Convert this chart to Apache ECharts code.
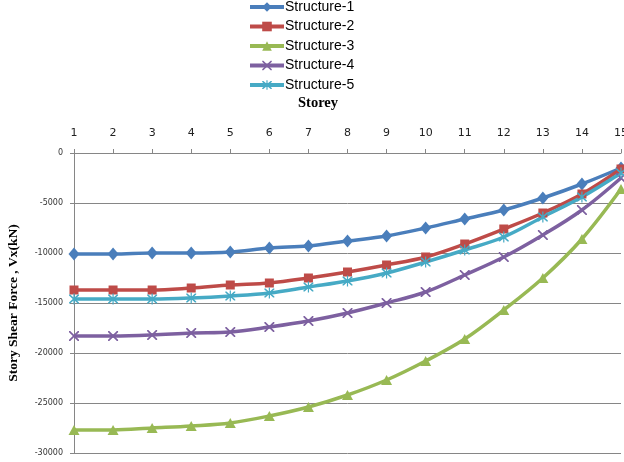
<!DOCTYPE html>
<html>
<head>
<meta charset="utf-8">
<script src="https://cdn.jsdelivr.net/npm/echarts@6/dist/echarts.min.js"></script>
<style>
html,body{margin:0;padding:0;background:#fff;}
#chart{width:624px;height:462px;}
</style>
</head>
<body>
<div id="chart"></div>
<script>
var storeys = ['1','2','3','4','5','6','7','8','9','10','11','12','13','14','15'];
var structure1 = [-10100,-10100,-10000,-10000,-9900,-9500,-9300,-8800,-8300,-7500,-6600,-5700,-4500,-3100,-1500];
var structure2 = [-13700,-13700,-13700,-13500,-13200,-13000,-12500,-11900,-11200,-10400,-9100,-7600,-6000,-4100,-1600];
var structure3 = [-27700,-27700,-27500,-27300,-27000,-26300,-25400,-24200,-22700,-20800,-18600,-15700,-12500,-8600,-3600];
var structure4 = [-18300,-18300,-18200,-18000,-17900,-17400,-16800,-16000,-15000,-13900,-12200,-10400,-8200,-5700,-2500];
var structure5 = [-14600,-14600,-14600,-14500,-14300,-14000,-13400,-12800,-12000,-10900,-9700,-8400,-6400,-4400,-2000];
var seriesNames = ['Structure-1','Structure-2','Structure-3','Structure-4','Structure-5'];
var colors = ['#4A7EBB','#BE4B48','#98B954','#7D60A0','#46AAC5'];

var xSym = 'path://M0,0L1.2,0L5,3.8L8.8,0L10,0L10,1.2L6.2,5L10,8.8L10,10L8.8,10L5,6.2L1.2,10L0,10L0,8.8L3.8,5L0,1.2Z';
var starSym = 'path://M0,0L1.2,0L5,3.8L8.8,0L10,0L10,1.2L6.2,5L10,8.8L10,10L8.8,10L5,6.2L1.2,10L0,10L0,8.8L3.8,5L0,1.2Z M4.4,-1L5.6,-1L5.6,11L4.4,11Z';
var symbols = ['diamond','rect','triangle',xSym,starSym];
var sizes = [[11,13],9,[11,10],10,[10,11]];
var dataSets = [structure1,structure2,structure3,structure4,structure5];

var series = dataSets.map(function(d,i){
  return {
    name: seriesNames[i],
    type: 'line',
    data: d,
    smooth: 0.35,
    symbol: symbols[i],
    symbolSize: sizes[i],
    showAllSymbol: true,
    lineStyle: {color: colors[i], width: 3.5},
    itemStyle: {color: colors[i], borderWidth: 0},
    emphasis: {disabled: true}
  };
});

var chart = echarts.init(document.getElementById('chart'), null, {renderer:'canvas'});
chart.setOption({
  animation: false,
  backgroundColor: '#ffffff',
  color: colors,
  title: {
    text: 'Storey',
    left: 298,
    top: 96,
    padding: 0,
    textStyle: {fontFamily: 'Liberation Serif', fontWeight: 'bold', fontSize: 14.5, color: '#000'}
  },
  legend: {
    orient: 'vertical',
    left: 248,
    top: 0,
    padding: 0,
    itemWidth: 34,
    itemHeight: 12,
    itemGap: 5.5,
    data: seriesNames,
    lineStyle: {width: 4},
    textStyle: {fontFamily: 'Liberation Sans', fontSize: 14, color: '#000', padding: [0,0,0,-4]}
  },
  grid: {left: 74, right: 3, top: 153, bottom: 9, containLabel: false, outerBoundsMode: 'none'},
  xAxis: {
    type: 'category',
    position: 'top',
    data: storeys,
    boundaryGap: false,
    axisLine: {onZero: false, lineStyle: {color: '#868686', width: 1}},
    axisTick: {show: true, alignWithLabel: true, length: 4, lineStyle: {color: '#868686'}},
    axisLabel: {fontFamily: 'DejaVu Sans', fontSize: 11, color: '#222', margin: 14},
    splitLine: {show: false}
  },
  yAxis: {
    type: 'value',
    min: -30000,
    max: 0,
    interval: 5000,
    name: 'Story Shear Force , Vx(kN)',
    nameLocation: 'middle',
    nameGap: 53,
    nameTextStyle: {fontFamily: 'Liberation Serif', fontWeight: 'bold', fontSize: 13.5, color: '#000'},
    axisLine: {show: true, lineStyle: {color: '#868686', width: 1}},
    axisTick: {show: true, length: 4, lineStyle: {color: '#868686'}},
    axisLabel: {fontFamily: 'DejaVu Sans', fontSize: 8, color: '#333', margin: 11,
      formatter: function(v){ return String(v); }},
    splitLine: {show: true, lineStyle: {color: '#868686', width: 1}}
  },
  series: series
});
</script>
</body>
</html>
